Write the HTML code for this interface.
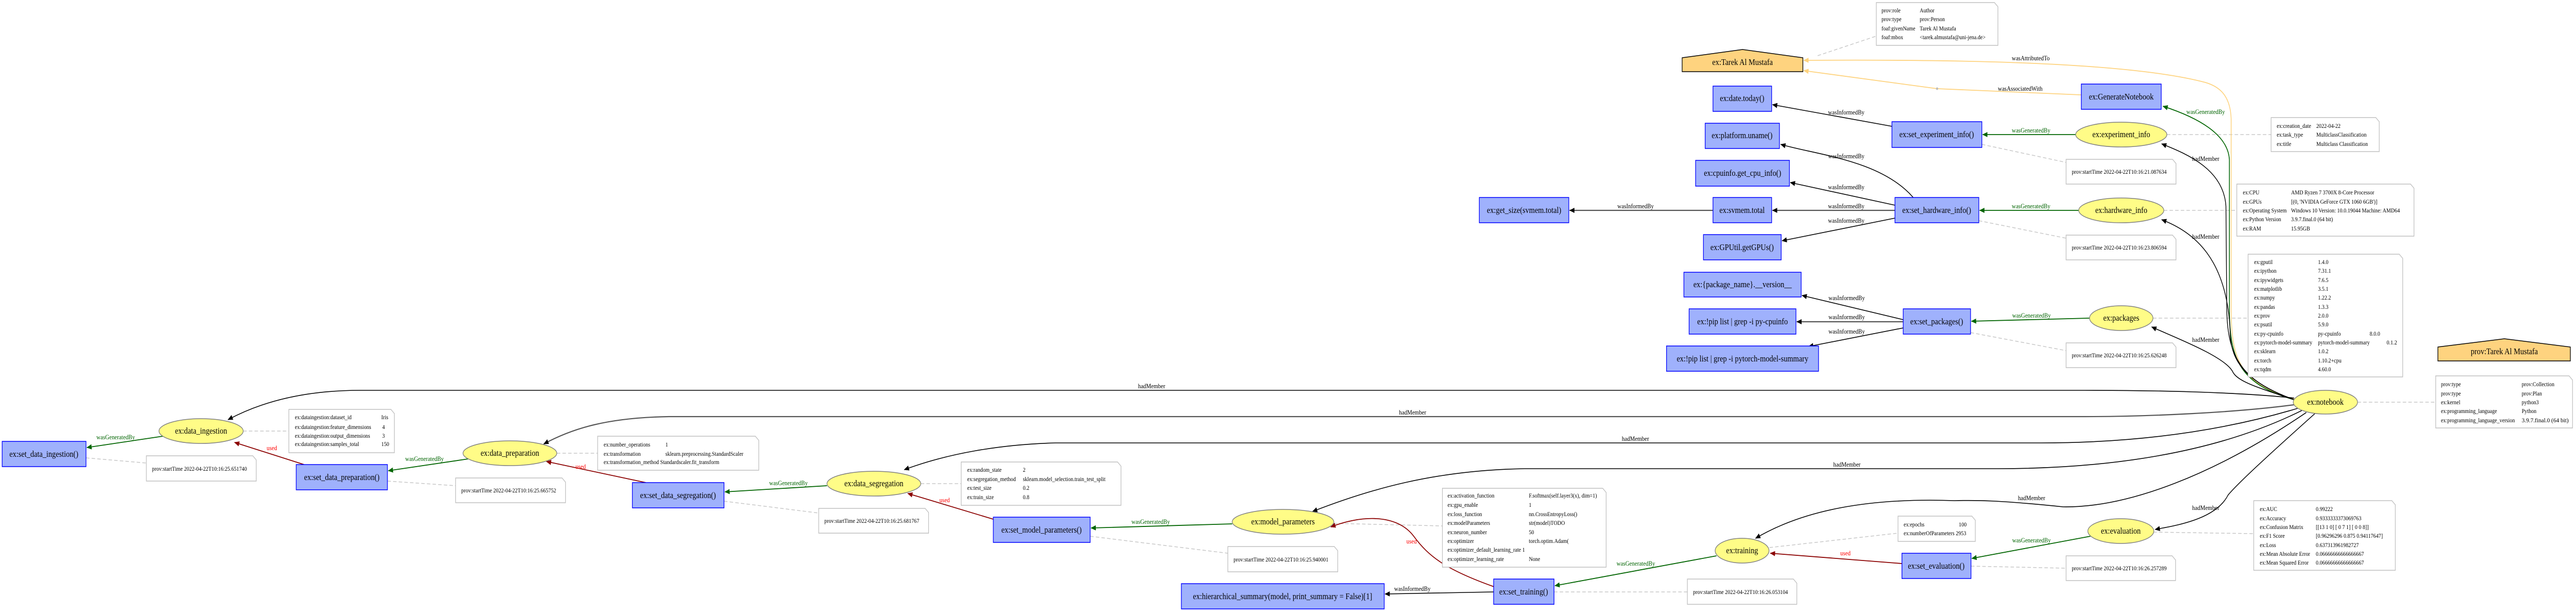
<!DOCTYPE html>
<html><head><meta charset="utf-8"><style>
html,body{margin:0;padding:0;background:#fff;overflow:hidden;}
svg{display:block;width:100vw;height:100vh;}
.nl{font-family:"Liberation Serif",serif;font-size:17px;text-anchor:middle;dominant-baseline:central;fill:#000;}
.el{font-family:"Liberation Serif",serif;font-size:13px;fill:#000;}
.eg{font-family:"Liberation Serif",serif;font-size:13px;fill:#006400;}
.er{font-family:"Liberation Serif",serif;font-size:13px;fill:#ff0000;}
.nt{font-family:"Liberation Serif",serif;font-size:12px;fill:#000;}
.act{fill:#9FB1FC;stroke:#0000FF;stroke-width:1.5;}
.ent{fill:#FFFC87;stroke:#808080;stroke-width:1.5;}
.agt{fill:#FED37F;stroke:#000;stroke-width:1.5;}
.note{fill:#fff;stroke:#c0c0c0;stroke-width:1.5;}
.dash{stroke:#c8c8c8;stroke-width:1.5;stroke-dasharray:8,5;fill:none;}
.bk{stroke:#000;stroke-width:1.6;fill:none;marker-end:url(#ab);}
.bk2{stroke:#555;stroke-width:2.2;fill:none;marker-end:url(#ab);}
.gr{stroke:#006400;stroke-width:1.8;fill:none;marker-end:url(#ag);}
.rd{stroke:#8B0000;stroke-width:1.8;fill:none;marker-end:url(#ar);}
.or{stroke:#FED37F;stroke-width:1.8;fill:none;marker-end:url(#ao);}
</style></head><body>
<svg viewBox="0 0 5931 1185" preserveAspectRatio="none" xmlns="http://www.w3.org/2000/svg">
<defs>
<marker id="ab" markerUnits="userSpaceOnUse" markerWidth="12" markerHeight="10" refX="11" refY="5" orient="auto"><path d="M0,0 L12,5 L0,10 z" fill="#000"/></marker>
<marker id="ag" markerUnits="userSpaceOnUse" markerWidth="12" markerHeight="10" refX="11" refY="5" orient="auto"><path d="M0,0 L12,5 L0,10 z" fill="#006400"/></marker>
<marker id="ar" markerUnits="userSpaceOnUse" markerWidth="12" markerHeight="10" refX="11" refY="5" orient="auto"><path d="M0,0 L12,5 L0,10 z" fill="#8B0000"/></marker>
<marker id="ao" markerUnits="userSpaceOnUse" markerWidth="12" markerHeight="10" refX="11" refY="5" orient="auto"><path d="M0,0 L12,5 L0,10 z" fill="#FED37F"/></marker>
</defs>
<rect width="5931" height="1185" fill="#fff"/>

<path class="dash" d="M4185,108 L4320,70"/>
<path class="dash" d="M4563,280 L4757,315"/>
<path class="dash" d="M4989,261 L5229,261"/>
<path class="dash" d="M4556,428 L4757,462"/>
<path class="dash" d="M4982,408 L5150,408"/>
<path class="dash" d="M4957,617 L5176,617"/>
<path class="dash" d="M4537,645 L4757,680"/>
<path class="dash" d="M5428,780 L5608,780"/>
<path class="dash" d="M4958,1032 L5189,1035"/>
<path class="dash" d="M4538,1098 L4757,1102"/>
<path class="dash" d="M4074,1062 L4370,1034"/>
<path class="dash" d="M3578,1148 L3885,1148"/>
<path class="dash" d="M3071,1015 L3321,1020"/>
<path class="dash" d="M2510,1040 L2827,1073"/>
<path class="dash" d="M2120,938 L2213,938"/>
<path class="dash" d="M1667,972 L1885,995"/>
<path class="dash" d="M1282,879 L1376,879"/>
<path class="dash" d="M892,933 L1049,942"/>
<path class="dash" d="M560,836 L665,836"/>
<path class="dash" d="M198,888 L337,898"/>

<path class="bk" d="M4356,245 L4081,203"/>
<path class="bk" d="M4405,383 C4330,310 4180,300 4100,280"/>
<path class="bk" d="M4363,398 L4122,354"/>
<path class="bk2" d="M4363,408 L4081,408"/>
<path class="bk" d="M4363,423 L4103,467"/>
<path class="bk2" d="M3944,408 L3614,408"/>
<path class="bk" d="M4382,620 L4149,573"/>
<path class="bk2" d="M4382,624 L4137,624"/>
<path class="bk" d="M4382,636 L4164,672"/>
<text class="el" x="4209" y="222">wasInformedBy</text>
<text class="el" x="4209" y="307">wasInformedBy</text>
<text class="el" x="4209" y="367">wasInformedBy</text>
<text class="el" x="4209" y="404">wasInformedBy</text>
<text class="el" x="4209" y="432">wasInformedBy</text>
<text class="el" x="3724" y="404">wasInformedBy</text>
<text class="el" x="4210" y="582">wasInformedBy</text>
<text class="el" x="4210" y="619">wasInformedBy</text>
<text class="el" x="4210" y="647">wasInformedBy</text>

<path class="gr" d="M4779,261 L4565,261"/>
<path class="gr" d="M4786,408 L4558,408"/>
<path class="gr" d="M4811,617 L4539,623"/>
<text class="eg" x="4632" y="257">wasGeneratedBy</text>
<text class="eg" x="4632" y="404">wasGeneratedBy</text>
<text class="eg" x="4633" y="616">wasGeneratedBy</text>

<path class="or" d="M4792,184 L4460,172 L4153,137"/>
<circle cx="4460" cy="172" r="2.5" fill="#bbb"/>
<text class="el" x="4600" y="176">wasAssociatedWith</text>
<path class="or" d="M5285,775 C5160,745 5137,700 5137,600 L5137,230 C5135,185 5110,168 5078,160 C4900,120 4500,115 4153,117"/>
<text class="el" x="4632" y="117">wasAttributedTo</text>

<path class="gr" d="M5285,776 C5160,746 5133,700 5133,600 L5133,310 C5130,260 5060,228 4980,206"/>
<text class="eg" x="5034" y="221">wasGeneratedBy</text>
<path class="bk" d="M5285,776 C5170,742 5128,700 5127,600 L5125,400 C5120,330 5040,300 4977,279"/>
<path class="bk" d="M5285,776 C5170,742 5138,700 5135,650 C5130,500 5050,450 4977,426"/>
<path class="bk" d="M5285,776 C5200,752 5150,740 5140,720 C5120,690 5000,652 4954,634"/>
<text class="el" x="5047" y="312">hadMember</text>
<text class="el" x="5047" y="463">hadMember</text>
<text class="el" x="5047" y="663">hadMember</text>

<path class="bk" d="M5282,772 C5150,760 4950,757 4800,757 L830,757 C700,757 600,780 525,814"/>
<text class="el" x="2620" y="753">hadMember</text>
<path class="bk2" d="M5282,785 C5150,800 4950,808 4800,808 L1540,808 C1400,810 1320,830 1252,861"/>
<text class="el" x="3221" y="804">hadMember</text>
<path class="bk" d="M5290,792 C5100,840 4900,859 4700,859 L2430,859 C2300,862 2180,880 2082,911"/>
<text class="el" x="3734" y="855">hadMember</text>
<path class="bk" d="M5300,796 C5100,880 4850,909 4600,909 L3510,909 C3300,912 3150,950 3022,992"/>
<text class="el" x="4221" y="905">hadMember</text>
<path class="bk" d="M5310,800 C5100,920 4900,985 4750,983 C4600,970 4550,970 4500,971 C4300,965 4150,990 4042,1044"/>
<text class="el" x="4646" y="970">hadMember</text>
<path class="bk" d="M5330,802 C5200,900 5150,940 5130,960 C5100,1010 5000,1020 4962,1027"/>
<text class="el" x="5047" y="989">hadMember</text>

<path class="gr" d="M375,846 L200,868"/>
<text class="eg" x="222" y="852">wasGeneratedBy</text>
<path class="gr" d="M1078,890 L894,913"/>
<text class="eg" x="933" y="894">wasGeneratedBy</text>
<path class="gr" d="M1904,942 L1669,954"/>
<text class="eg" x="1771" y="941">wasGeneratedBy</text>
<path class="gr" d="M2837,1016 L2512,1024"/>
<text class="eg" x="2605" y="1016">wasGeneratedBy</text>
<path class="gr" d="M3952,1078 L3580,1136"/>
<text class="eg" x="3722" y="1097">wasGeneratedBy</text>
<path class="gr" d="M4813,1040 L4540,1083"/>
<text class="eg" x="4633" y="1052">wasGeneratedBy</text>

<path class="rd" d="M700,901 L540,858"/>
<text class="er" x="614" y="873">used</text>
<path class="rd" d="M1487,936 L1258,895"/>
<text class="er" x="1325" y="909">used</text>
<path class="rd" d="M2287,1007 L2090,957"/>
<text class="er" x="2163" y="974">used</text>
<path class="rd" d="M3440,1138 C3330,1105 3290,1080 3255,1040 C3215,995 3130,1000 3064,1022"/>
<text class="er" x="3238" y="1054">used</text>
<path class="rd" d="M4379,1093 L4076,1073"/>
<text class="er" x="4237" y="1077">used</text>

<path class="bk" d="M3439,1148 L3189,1152"/>
<text class="el" x="3210" y="1146">wasInformedBy</text>

<g>
<rect class="act" x="3944" y="167" width="135" height="49"/><text class="nl" x="4011" y="191">ex:date.today()</text>
<rect class="act" x="3926" y="239" width="171" height="49"/><text class="nl" x="4011" y="263">ex:platform.uname()</text>
<rect class="act" x="3904" y="311" width="216" height="50"/><text class="nl" x="4012" y="336">ex:cpuinfo.get_cpu_info()</text>
<rect class="act" x="3944" y="383" width="135" height="49"/><text class="nl" x="4011" y="408">ex:svmem.total</text>
<rect class="act" x="3406" y="383" width="206" height="49"/><text class="nl" x="3509" y="408">ex:get_size(svmem.total)</text>
<rect class="act" x="3922" y="455" width="179" height="49"/><text class="nl" x="4011" y="480">ex:GPUtil.getGPUs()</text>
<rect class="act" x="3877" y="528" width="270" height="48"/><text class="nl" x="4012" y="552">ex:{package_name}.__version__</text>
<rect class="act" x="3889" y="599" width="246" height="49"/><text class="nl" x="4012" y="624">ex:!pip list | grep -i py-cpuinfo</text>
<rect class="act" x="3837" y="671" width="350" height="49"/><text class="nl" x="4012" y="696">ex:!pip list | grep -i pytorch-model-summary</text>
<rect class="act" x="4356" y="236" width="207" height="50"/><text class="nl" x="4459" y="261">ex:set_experiment_info()</text>
<rect class="act" x="4363" y="383" width="193" height="49"/><text class="nl" x="4459" y="408">ex:set_hardware_info()</text>
<rect class="act" x="4382" y="599" width="155" height="49"/><text class="nl" x="4459" y="624">ex:set_packages()</text>
<rect class="act" x="4792" y="163" width="184" height="49"/><text class="nl" x="4884" y="188">ex:GenerateNotebook</text>
<rect class="act" x="5" y="856" width="193" height="49"/><text class="nl" x="101" y="881">ex:set_data_ingestion()</text>
<rect class="act" x="682" y="901" width="210" height="49"/><text class="nl" x="787" y="926">ex:set_data_preparation()</text>
<rect class="act" x="1456" y="936" width="211" height="49"/><text class="nl" x="1561" y="961">ex:set_data_segregation()</text>
<rect class="act" x="2287" y="1003" width="223" height="49"/><text class="nl" x="2398" y="1028">ex:set_model_parameters()</text>
<rect class="act" x="2720" y="1132" width="467" height="49"/><text class="nl" x="2953" y="1157">ex:hierarchical_summary(model, print_summary = False)[1]</text>
<rect class="act" x="3439" y="1123" width="139" height="49"/><text class="nl" x="3508" y="1148">ex:set_training()</text>
<rect class="act" x="4379" y="1073" width="159" height="49"/><text class="nl" x="4458" y="1098">ex:set_evaluation()</text>
</g>

<ellipse class="ent" cx="4884" cy="261" rx="105" ry="24"/><text class="nl" x="4884" y="261">ex:experiment_info</text>
<ellipse class="ent" cx="4884" cy="408" rx="98" ry="24"/><text class="nl" x="4884" y="408">ex:hardware_info</text>
<ellipse class="ent" cx="4884" cy="617" rx="73" ry="24"/><text class="nl" x="4884" y="617">ex:packages</text>
<ellipse class="ent" cx="5354" cy="780" rx="74" ry="23"/><text class="nl" x="5354" y="780">ex:notebook</text>
<ellipse class="ent" cx="463" cy="836" rx="97" ry="24"/><text class="nl" x="463" y="836">ex:data_ingestion</text>
<ellipse class="ent" cx="1174" cy="879" rx="108" ry="24"/><text class="nl" x="1174" y="879">ex:data_preparation</text>
<ellipse class="ent" cx="2012" cy="938" rx="108" ry="24"/><text class="nl" x="2012" y="938">ex:data_segregation</text>
<ellipse class="ent" cx="2954" cy="1012" rx="117" ry="24"/><text class="nl" x="2954" y="1012">ex:model_parameters</text>
<ellipse class="ent" cx="4011" cy="1068" rx="62" ry="24"/><text class="nl" x="4011" y="1068">ex:training</text>
<ellipse class="ent" cx="4883" cy="1030" rx="76" ry="24"/><text class="nl" x="4883" y="1030">ex:evaluation</text>

<path class="agt" d="M3873,112 L4012,96 L4151,112 L4151,139 L3873,139 Z"/><text class="nl" x="4012" y="121">ex:Tarek Al Mustafa</text>
<path class="agt" d="M5613,673 L5766,657 L5918,673 L5918,700 L5613,700 Z"/><text class="nl" x="5766" y="682">prov:Tarek Al Mustafa</text>

<path class="note" d="M4320,5 H4592 L4600,13 V88 H4320 Z"/>
<text class="nt" x="4332" y="24">prov:role</text><text class="nt" x="4420" y="24">Author</text>
<text class="nt" x="4332" y="41">prov:type</text><text class="nt" x="4420" y="41">prov:Person</text>
<text class="nt" x="4332" y="59">foaf:givenName</text><text class="nt" x="4420" y="59">Tarek Al Mustafa</text>
<text class="nt" x="4332" y="76">foaf:mbox</text><text class="nt" x="4420" y="76">&lt;tarek.almustafa@uni-jena.de&gt;</text>

<path class="note" d="M5229,228 H5470 L5478,236 V294 H5229 Z"/>
<text class="nt" x="5242" y="248">ex:creation_date</text><text class="nt" x="5333" y="248">2022-04-22</text>
<text class="nt" x="5242" y="265">ex:task_type</text><text class="nt" x="5333" y="265">MulticlassClassification</text>
<text class="nt" x="5242" y="283">ex:title</text><text class="nt" x="5333" y="283">Multiclass Classification</text>

<path class="note" d="M4757,309 H5002 L5010,317 V357 H4757 Z"/>
<text class="nt" x="4770" y="337">prov:startTime 2022-04-22T10:16:21.087634</text>

<path class="note" d="M5150,357 H5550 L5558,365 V458 H5150 Z"/>
<text class="nt" x="5164" y="377">ex:CPU</text><text class="nt" x="5275" y="377">AMD Ryzen 7 3700X 8-Core Processor</text>
<text class="nt" x="5164" y="395">ex:GPUs</text><text class="nt" x="5275" y="395">[(0, 'NVIDIA GeForce GTX 1060 6GB')]</text>
<text class="nt" x="5164" y="412">ex:Operating System</text><text class="nt" x="5275" y="412">Windows 10 Version: 10.0.19044 Machine: AMD64</text>
<text class="nt" x="5164" y="429">ex:Python Version</text><text class="nt" x="5275" y="429">3.9.7.final.0 (64 bit)</text>
<text class="nt" x="5164" y="447">ex:RAM</text><text class="nt" x="5275" y="447">15.95GB</text>

<path class="note" d="M4757,456 H5002 L5010,464 V504 H4757 Z"/>
<text class="nt" x="4770" y="484">prov:startTime 2022-04-22T10:16:23.806594</text>

<path class="note" d="M5176,493 H5524 L5532,501 V731 H5176 Z"/>
<text class="nt" x="5190" y="512">ex:gputil</text><text class="nt" x="5337" y="512">1.4.0</text>
<text class="nt" x="5190" y="529">ex:ipython</text><text class="nt" x="5337" y="529">7.31.1</text>
<text class="nt" x="5190" y="547">ex:ipywidgets</text><text class="nt" x="5337" y="547">7.6.5</text>
<text class="nt" x="5190" y="564">ex:matplotlib</text><text class="nt" x="5337" y="564">3.5.1</text>
<text class="nt" x="5190" y="581">ex:numpy</text><text class="nt" x="5337" y="581">1.22.2</text>
<text class="nt" x="5190" y="599">ex:pandas</text><text class="nt" x="5337" y="599">1.3.3</text>
<text class="nt" x="5190" y="616">ex:prov</text><text class="nt" x="5337" y="616">2.0.0</text>
<text class="nt" x="5190" y="633">ex:psutil</text><text class="nt" x="5337" y="633">5.9.0</text>
<text class="nt" x="5190" y="651">ex:py-cpuinfo</text><text class="nt" x="5337" y="651">py-cpuinfo</text><text class="nt" x="5456" y="651">8.0.0</text>
<text class="nt" x="5190" y="668">ex:pytorch-model-summary</text><text class="nt" x="5337" y="668">pytorch-model-summary</text><text class="nt" x="5495" y="668">0.1.2</text>
<text class="nt" x="5190" y="685">ex:sklearn</text><text class="nt" x="5337" y="685">1.0.2</text>
<text class="nt" x="5190" y="703">ex:torch</text><text class="nt" x="5337" y="703">1.10.2+cpu</text>
<text class="nt" x="5190" y="720">ex:tqdm</text><text class="nt" x="5337" y="720">4.60.0</text>

<path class="note" d="M4757,665 H5002 L5010,673 V713 H4757 Z"/>
<text class="nt" x="4770" y="693">prov:startTime 2022-04-22T10:16:25.626248</text>

<path class="note" d="M5608,729 H5915 L5923,737 V830 H5608 Z"/>
<text class="nt" x="5620" y="749">prov:type</text><text class="nt" x="5806" y="749">prov:Collection</text>
<text class="nt" x="5620" y="767">prov:type</text><text class="nt" x="5806" y="767">prov:Plan</text>
<text class="nt" x="5620" y="784">ex:kernel</text><text class="nt" x="5806" y="784">python3</text>
<text class="nt" x="5620" y="801">ex:programming_language</text><text class="nt" x="5806" y="801">Python</text>
<text class="nt" x="5620" y="819">ex:programming_language_version</text><text class="nt" x="5806" y="819" textLength="108" lengthAdjust="spacingAndGlyphs">3.9.7.final.0 (64 bit)</text>

<path class="note" d="M665,794 H900 L908,802 V878 H665 Z"/>
<text class="nt" x="679" y="813">ex:dataingestion:dataset_id</text><text class="nt" x="878" y="813">Iris</text>
<text class="nt" x="679" y="832">ex:dataingestion:feature_dimensions</text><text class="nt" x="880" y="832">4</text>
<text class="nt" x="679" y="849">ex:dataingestion:output_dimensions</text><text class="nt" x="880" y="849">3</text>
<text class="nt" x="679" y="865">ex:dataingestion:samples_total</text><text class="nt" x="878" y="865">150</text>

<path class="note" d="M337,884 H582 L590,892 V933 H337 Z"/>
<text class="nt" x="350" y="913">prov:startTime 2022-04-22T10:16:25.651740</text>

<path class="note" d="M1376,846 H1739 L1747,854 V912 H1376 Z"/>
<text class="nt" x="1390" y="866">ex:number_operations</text><text class="nt" x="1532" y="866">1</text>
<text class="nt" x="1390" y="884">ex:transformation</text><text class="nt" x="1532" y="884">sklearn.preprocessing.StandardScaler</text>
<text class="nt" x="1390" y="900">ex:transformation_method Standardscaler.fit_transform</text>

<path class="note" d="M1049,927 H1294 L1302,935 V975 H1049 Z"/>
<text class="nt" x="1062" y="955">prov:startTime 2022-04-22T10:16:25.665752</text>

<path class="note" d="M2213,896 H2573 L2581,904 V980 H2213 Z"/>
<text class="nt" x="2227" y="915">ex:random_state</text><text class="nt" x="2355" y="915">2</text>
<text class="nt" x="2227" y="933">ex:segregation_method</text><text class="nt" x="2355" y="933">sklearn.model_selection.train_test_split</text>
<text class="nt" x="2227" y="950">ex:test_size</text><text class="nt" x="2355" y="950">0.2</text>
<text class="nt" x="2227" y="968">ex:train_size</text><text class="nt" x="2355" y="968">0.8</text>

<path class="note" d="M1885,986 H2130 L2138,994 V1034 H1885 Z"/>
<text class="nt" x="1898" y="1014">prov:startTime 2022-04-22T10:16:25.681767</text>

<path class="note" d="M3321,947 H3690 L3698,955 V1100 H3321 Z"/>
<text class="nt" x="3333" y="965">ex:activation_function</text><text class="nt" x="3520" y="965">F.softmax(self.layer3(x), dim=1)</text>
<text class="nt" x="3333" y="983">ex:gpu_enable</text><text class="nt" x="3520" y="983">1</text>
<text class="nt" x="3333" y="1001">ex:loss_function</text><text class="nt" x="3520" y="1001">nn.CrossEntropyLoss()</text>
<text class="nt" x="3333" y="1018">ex:modelParameters</text><text class="nt" x="3520" y="1018">str(model)TODO</text>
<text class="nt" x="3333" y="1036">ex:neuron_number</text><text class="nt" x="3520" y="1036">50</text>
<text class="nt" x="3333" y="1053">ex:optimizer</text><text class="nt" x="3520" y="1053">torch.optim.Adam(</text>
<text class="nt" x="3333" y="1070">ex:optimizer_default_learning_rate 1</text>
<text class="nt" x="3333" y="1088">ex:optimizer_learning_rate</text><text class="nt" x="3520" y="1088">None</text>

<path class="note" d="M2827,1060 H3072 L3080,1068 V1109 H2827 Z"/>
<text class="nt" x="2840" y="1089">prov:startTime 2022-04-22T10:16:25.940001</text>

<path class="note" d="M4370,1001 H4540 L4548,1009 V1050 H4370 Z"/>
<text class="nt" x="4383" y="1021">ex:epochs</text><text class="nt" x="4510" y="1021">100</text>
<text class="nt" x="4383" y="1038">ex:numberOfParameters 2953</text>

<path class="note" d="M3885,1123 H4129 L4137,1131 V1172 H3885 Z"/>
<text class="nt" x="3898" y="1152">prov:startTime 2022-04-22T10:16:26.053104</text>

<path class="note" d="M5189,971 H5507 L5515,979 V1106 H5189 Z"/>
<text class="nt" x="5203" y="991">ex:AUC</text><text class="nt" x="5332" y="991">0.99222</text>
<text class="nt" x="5203" y="1009">ex:Accuracy</text><text class="nt" x="5332" y="1009">0.9333333373069763</text>
<text class="nt" x="5203" y="1026">ex:Confusion Matrix</text><text class="nt" x="5332" y="1026">[[13  1  0] [ 0  7  1] [ 0  0  8]]</text>
<text class="nt" x="5203" y="1043">ex:F1 Score</text><text class="nt" x="5332" y="1043">[0.96296296 0.875      0.94117647]</text>
<text class="nt" x="5203" y="1061">ex:Loss</text><text class="nt" x="5332" y="1061">0.637313961982727</text>
<text class="nt" x="5203" y="1078">ex:Mean Absolute Error</text><text class="nt" x="5332" y="1078">0.06666666666666667</text>
<text class="nt" x="5203" y="1095">ex:Mean Squared Error</text><text class="nt" x="5332" y="1095">0.06666666666666667</text>

<path class="note" d="M4757,1078 H5001 L5009,1086 V1126 H4757 Z"/>
<text class="nt" x="4770" y="1106">prov:startTime 2022-04-22T10:16:26.257289</text>
</svg>
</body></html>
